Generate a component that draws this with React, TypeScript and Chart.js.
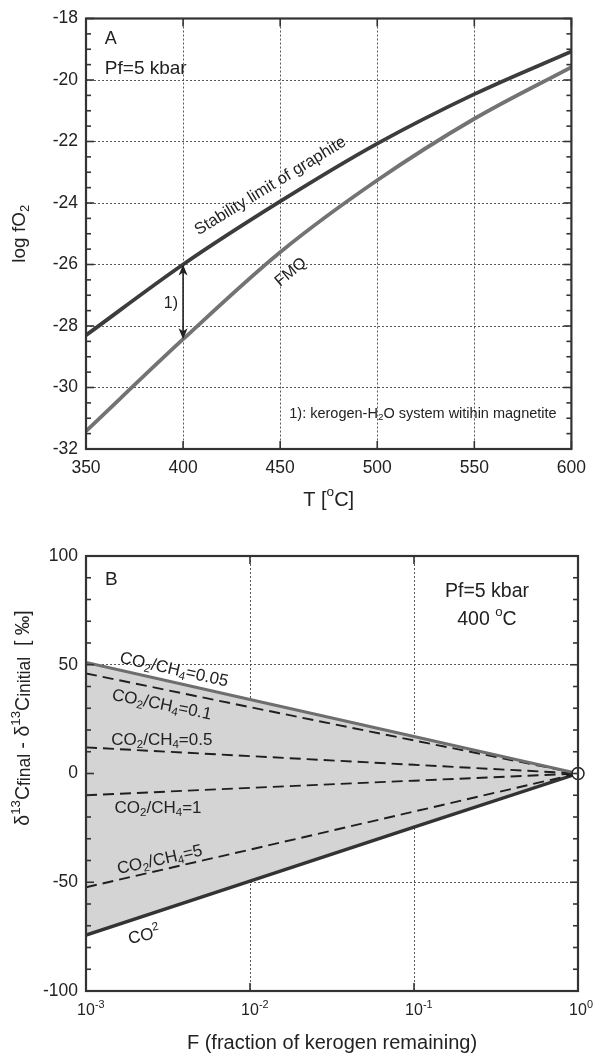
import React, { useEffect, useRef } from 'react';
import { Chart, registerables } from 'chart.js';

Chart.register(...registerables);

const FONT = '"Liberation Sans", Arial, Helvetica, sans-serif';

// ---------- Panel A data ----------
const temperatureC = [350, 400, 450, 500, 550, 600];
const graphiteLimit = [-28.3, -26.0, -23.95, -22.07, -20.46, -19.07];
const fmqBuffer = [-31.42, -28.43, -25.6, -23.26, -21.26, -19.58];
const tempTicks = [350, 400, 450, 500, 550, 600];
const fo2Ticks = [-18, -20, -22, -24, -26, -28, -30, -32];

// ---------- Panel B data ----------
const fractionRemaining = [0.001, 0.01, 0.1, 1];
const ratio005 = [51, 34, 17, 0];
const ratio01 = [46, 30.5, 15.2, 0];
const ratio05 = [12, 8, 4, 0];
const ratio1 = [-10, -6.6, -3.3, 0];
const ratio5 = [-52.3, -35, -17.5, 0];
const pureCO2 = [-74.3, -49.5, -24.7, 0];
const convergenceF = [1];
const convergenceDelta = [0];
const fTicks = [0.001, 0.01, 0.1, 1];
const fTickExponents = ['-3', '-2', '-1', '0'];
const deltaTicks = [-100, -50, 0, 50, 100];

type Part = { t: string; k?: 'sub' | 'sup' | 'small' };

function drawRich(
  ctx: CanvasRenderingContext2D,
  parts: Part[],
  x: number,
  y: number,
  size: number,
  align: 'left' | 'center' | 'right' = 'left',
  rot = 0,
  color = '#222'
) {
  ctx.save();
  ctx.translate(x, y);
  if (rot) ctx.rotate((rot * Math.PI) / 180);
  ctx.textBaseline = 'middle';
  ctx.textAlign = 'left';
  ctx.fillStyle = color;
  const sz = (p: Part) => (p.k === 'sub' || p.k === 'sup' ? size * 0.68 : p.k === 'small' ? size * 0.9 : size);
  const widths = parts.map((p) => {
    ctx.font = `${sz(p)}px ${FONT}`;
    return ctx.measureText(p.t).width;
  });
  const total = widths.reduce((a, b) => a + b, 0);
  let cx = align === 'center' ? -total / 2 : align === 'right' ? -total : 0;
  parts.forEach((p, i) => {
    ctx.font = `${sz(p)}px ${FONT}`;
    const dy = p.k === 'sub' ? size * 0.28 : p.k === 'sup' ? -size * 0.38 : p.k === 'small' ? size * 0.05 : 0;
    ctx.fillText(p.t, cx, dy);
    cx += widths[i];
  });
  ctx.restore();
}

function drawFrame(chart: any, xMajor: number[], yMajor: number[], yMinor: number[]) {
  const { ctx, chartArea: ca } = chart;
  const xs = chart.scales.x;
  const ys = chart.scales.y;
  ctx.save();
  ctx.strokeStyle = '#333';
  ctx.lineWidth = 1.6;
  ctx.setLineDash([]);
  const seg = (x1: number, y1: number, x2: number, y2: number) => {
    ctx.beginPath();
    ctx.moveTo(x1, y1);
    ctx.lineTo(x2, y2);
    ctx.stroke();
  };
  xMajor.forEach((v) => {
    const px = xs.getPixelForValue(v);
    seg(px, ca.top, px, ca.top + 8);
    seg(px, ca.bottom, px, ca.bottom - 8);
  });
  yMajor.forEach((v) => {
    const py = ys.getPixelForValue(v);
    seg(ca.left, py, ca.left + 8, py);
    seg(ca.right, py, ca.right - 8, py);
  });
  yMinor.forEach((v) => {
    const py = ys.getPixelForValue(v);
    seg(ca.left, py, ca.left + 5, py);
    seg(ca.right, py, ca.right - 5, py);
  });
  ctx.lineWidth = 2.2;
  ctx.strokeRect(ca.left, ca.top, ca.right - ca.left, ca.bottom - ca.top);
  ctx.restore();
}

function minorTicks(min: number, max: number, step: number, majorStep: number) {
  const out: number[] = [];
  for (let v = min; v <= max + 1e-9; v += step) {
    const r = Math.abs(v / majorStep - Math.round(v / majorStep));
    if (r > 1e-6) out.push(v);
  }
  return out;
}

function PanelA() {
  const ref = useRef<HTMLCanvasElement>(null);
  useEffect(() => {
    if (!ref.current) return;
    const annot = {
      id: 'annotA',
      afterDatasetsDraw(chart: any) {
        const ctx = chart.ctx;
        const xs = chart.scales.x;
        const ys = chart.scales.y;
        // arrow 1)
        const ax = xs.getPixelForValue(400);
        const y1 = ys.getPixelForValue(graphiteLimit[1]);
        const y2 = ys.getPixelForValue(fmqBuffer[1]);
        ctx.save();
        ctx.strokeStyle = '#222';
        ctx.fillStyle = '#222';
        ctx.lineWidth = 1.6;
        ctx.beginPath();
        ctx.moveTo(ax, y1 + 6);
        ctx.lineTo(ax, y2 - 6);
        ctx.stroke();
        const head = (tipY: number, dir: number) => {
          ctx.beginPath();
          ctx.moveTo(ax, tipY);
          ctx.lineTo(ax - 4.5, tipY + dir * 11);
          ctx.lineTo(ax, tipY + dir * 8);
          ctx.lineTo(ax + 4.5, tipY + dir * 11);
          ctx.closePath();
          ctx.fill();
        };
        head(y1, 1);
        head(y2, -1);
        ctx.restore();
      },
      afterDraw(chart: any) {
        drawFrame(chart, tempTicks, fo2Ticks, minorTicks(-32, -18, 0.5, 2));
        const ctx = chart.ctx;
        const xs = chart.scales.x;
        const ys = chart.scales.y;
        const P = (x: number, y: number) => [xs.getPixelForValue(x), ys.getPixelForValue(y)];
        let p = P(359.7, -18.66);
        drawRich(ctx, [{ t: 'A' }], p[0], p[1], 18, 'left');
        p = P(359.7, -19.62);
        drawRich(ctx, [{ t: 'Pf=5 kbar' }], p[0], p[1], 19, 'left');
        p = P(445, -23.45);
        drawRich(ctx, [{ t: 'Stability limit of graphite' }], p[0], p[1], 16.5, 'center', -31.5);
        p = P(455.5, -26.25);
        drawRich(ctx, [{ t: 'FMQ' }], p[0], p[1], 16, 'center', -40);
        p = P(393.7, -27.28);
        drawRich(ctx, [{ t: '1)' }], p[0], p[1], 16, 'center');
        p = P(592.4, -30.85);
        drawRich(
          ctx,
          [{ t: '1): kerogen-H' }, { t: '2', k: 'sub' }, { t: 'O system witihin magnetite' }],
          p[0],
          p[1],
          14.5,
          'right'
        );
        // axis titles
        const ca = chart.chartArea;
        drawRich(ctx, [{ t: 'log fO' }, { t: '2', k: 'sub' }], 20, (ca.top + ca.bottom) / 2, 19, 'center', -90);
        drawRich(ctx, [{ t: 'T [' }, { t: 'o', k: 'sup' }, { t: 'C]' }], (ca.left + ca.right) / 2, ca.bottom + 51, 20, 'center');
      },
    };
    const chart = new Chart(ref.current, {
      type: 'line',
      data: {
        datasets: [
          {
            label: 'Stability limit of graphite',
            data: temperatureC.map((t, i) => ({ x: t, y: graphiteLimit[i] })),
            borderColor: '#3c3c3c',
            borderWidth: 3.8,
            pointRadius: 0,
            cubicInterpolationMode: 'monotone',
          },
          {
            label: 'FMQ',
            data: temperatureC.map((t, i) => ({ x: t, y: fmqBuffer[i] })),
            borderColor: '#737373',
            borderWidth: 3.8,
            pointRadius: 0,
            cubicInterpolationMode: 'monotone',
          },
        ],
      },
      options: {
        responsive: false,
        animation: false,
        layout: { padding: { top: 13, right: 17, left: 0, bottom: 0 } },
        plugins: { legend: { display: false }, tooltip: { enabled: false } },
        scales: {
          x: {
            type: 'linear',
            min: 350,
            max: 600,
            afterBuildTicks: (s: any) => {
              s.ticks = tempTicks.map((v) => ({ value: v }));
            },
            afterFit: (s: any) => {
              s.height = 81;
            },
            grid: { color: '#444', lineWidth: 0.9, drawTicks: false },
            border: { display: false, dash: [2, 2] },
            ticks: { font: { family: FONT, size: 17.5 }, color: '#222', padding: 9, maxRotation: 0 },
          },
          y: {
            type: 'linear',
            min: -32,
            max: -18,
            afterBuildTicks: (s: any) => {
              s.ticks = fo2Ticks.map((v) => ({ value: v }));
            },
            afterFit: (s: any) => {
              s.width = 86;
            },
            grid: { color: '#444', lineWidth: 0.9, drawTicks: false },
            border: { display: false, dash: [2, 2] },
            ticks: { font: { family: FONT, size: 17.5 }, color: '#222', padding: 8 },
          },
        },
      },
      plugins: [annot],
    } as any);
    return () => chart.destroy();
  }, []);
  return <canvas ref={ref} width={595} height={530} style={{ display: 'block', width: 595, height: 530 }} />;
}

function PanelB() {
  const ref = useRef<HTMLCanvasElement>(null);
  useEffect(() => {
    if (!ref.current) return;
    const annot = {
      id: 'annotB',
      afterDraw(chart: any) {
        drawFrame(chart, fTicks, deltaTicks, minorTicks(-100, 100, 10, 50));
        const ctx = chart.ctx;
        const xs = chart.scales.x;
        const ys = chart.scales.y;
        const ca = chart.chartArea;
        const P = (x: number, y: number) => [xs.getPixelForValue(x), ys.getPixelForValue(y)];
        // x tick labels 10^n
        fTicks.forEach((v, i) => {
          const px = xs.getPixelForValue(v);
          ctx.save();
          ctx.font = `16px ${FONT}`;
          const w = ctx.measureText('10').width;
          ctx.restore();
          drawRich(ctx, [{ t: '10' }, { t: fTickExponents[i], k: 'sup' }], px - w / 2, ca.bottom + 20, 16, 'left');
        });
        let p = P(0.001306, 89);
        drawRich(ctx, [{ t: 'B' }], p[0], p[1], 19, 'left');
        p = P(0.2786, 83.4);
        drawRich(ctx, [{ t: 'Pf=5 kbar' }], p[0], p[1], 19.5, 'center');
        p = P(0.2786, 70.6);
        drawRich(ctx, [{ t: '400 ' }, { t: 'o', k: 'sup' }, { t: 'C' }], p[0], p[1], 19.5, 'center');
        const lab = (v: string) => [{ t: 'CO' }, { t: '2', k: 'sub' as const }, { t: '/CH' }, { t: '4', k: 'sub' as const }, { t: '=' + v }];
        p = P(0.00344, 47.6);
        drawRich(ctx, lab('0.05'), p[0], p[1], 17, 'center', 12.6);
        p = P(0.0029, 31.5);
        drawRich(ctx, lab('0.1'), p[0], p[1], 17, 'center', 11.3);
        p = P(0.0029, 15.4);
        drawRich(ctx, lab('0.5'), p[0], p[1], 17, 'center', 0);
        p = P(0.00275, -15.9);
        drawRich(ctx, lab('1'), p[0], p[1], 17, 'center', 0);
        p = P(0.00282, -39.8);
        drawRich(ctx, lab('5'), p[0], p[1], 17, 'center', -12.5);
        p = P(0.00226, -74.7);
        drawRich(ctx, [{ t: 'CO' }, { t: '2', k: 'sup' }], p[0], p[1], 17, 'center', -12);
        // axis titles
        drawRich(
          ctx,
          [
            { t: 'δ' },
            { t: '13', k: 'sup' },
            { t: 'C' },
            { t: 'final', k: 'small' },
            { t: ' - δ' },
            { t: '13', k: 'sup' },
            { t: 'C' },
            { t: 'initial', k: 'small' },
            { t: '  [ ‰]' },
          ],
          24,
          188,
          19.5,
          'center',
          -90
        );
        drawRich(ctx, [{ t: 'F (fraction of kerogen remaining)' }], (ca.left + ca.right) / 2, 513, 20, 'center');
      },
    };
    const mk = (vals: number[]) => fractionRemaining.map((f, i) => ({ x: f, y: vals[i] }));
    const dashed = (label: string, vals: number[]) => ({
      label,
      data: mk(vals),
      borderColor: '#1e1e1e',
      borderWidth: 1.9,
      borderDash: [11, 6],
      pointRadius: 0,
      fill: false,
    });
    const chart = new Chart(ref.current, {
      type: 'line',
      data: {
        datasets: [
          {
            label: 'start',
            data: convergenceF.map((f, i) => ({ x: f, y: convergenceDelta[i] })),
            showLine: false,
            pointRadius: 6,
            pointBackgroundColor: '#fff',
            pointBorderColor: '#222',
            pointBorderWidth: 1.5,
            clip: false,
          },
          {
            label: 'CO2/CH4=0.05',
            data: mk(ratio005),
            borderColor: '#6e6e6e',
            borderWidth: 3,
            pointRadius: 0,
            fill: { target: 6, above: '#d4d4d4', below: '#d4d4d4' },
          },
          dashed('CO2/CH4=0.1', ratio01),
          dashed('CO2/CH4=0.5', ratio05),
          dashed('CO2/CH4=1', ratio1),
          dashed('CO2/CH4=5', ratio5),
          {
            label: 'CO2',
            data: mk(pureCO2),
            borderColor: '#333',
            borderWidth: 3.4,
            pointRadius: 0,
            fill: false,
          },
        ],
      },
      options: {
        responsive: false,
        animation: false,
        layout: { padding: { top: 26, right: 17, left: 0, bottom: 0 } },
        plugins: {
          legend: { display: false },
          tooltip: { enabled: false },
          filler: { drawTime: 'beforeDatasetsDraw' },
        },
        scales: {
          x: {
            type: 'logarithmic',
            min: 0.001,
            max: 1,
            afterBuildTicks: (s: any) => {
              s.ticks = fTicks.map((v) => ({ value: v }));
            },
            afterFit: (s: any) => {
              s.height = 67;
            },
            grid: { color: '#444', lineWidth: 0.9, drawTicks: false },
            border: { display: false, dash: [2, 2] },
            ticks: { callback: () => '', maxRotation: 0 },
          },
          y: {
            type: 'linear',
            min: -100,
            max: 100,
            afterBuildTicks: (s: any) => {
              s.ticks = deltaTicks.map((v) => ({ value: v }));
            },
            afterFit: (s: any) => {
              s.width = 86;
            },
            grid: { color: '#444', lineWidth: 0.9, drawTicks: false },
            border: { display: false, dash: [2, 2] },
            ticks: { font: { family: FONT, size: 17.5 }, color: '#222', padding: 8 },
          },
        },
      },
      plugins: [annot],
    } as any);
    return () => chart.destroy();
  }, []);
  return <canvas ref={ref} width={595} height={528} style={{ display: 'block', width: 595, height: 528 }} />;
}

export default function App() {
  return (
    <div style={{ position: 'absolute', left: 0, top: 0, width: 595, height: 1058, background: '#fff' }}>
      <PanelA />
      <PanelB />
    </div>
  );
}
